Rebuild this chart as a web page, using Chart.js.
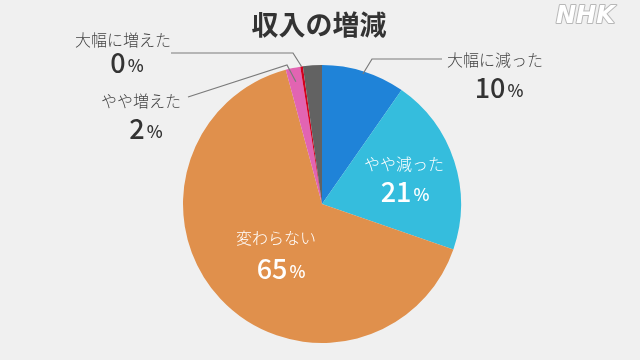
<!DOCTYPE html>
<html>
<head>
<meta charset="utf-8">
<script src="https://cdn.jsdelivr.net/npm/chart.js@4.4.0/dist/chart.umd.min.js"></script>
<style>
  html, body { margin: 0; padding: 0; background: #f0f0f0; }
  #wrap { width: 640px; height: 360px; position: relative; }
</style>
</head>
<body>
<div id="wrap"><canvas id="c" width="640" height="360"></canvas></div>
<script>
// ---- data ----
const title = "収入の増減";
const categories = ["大幅に減った", "やや減った", "変わらない", "やや増えた", "大幅に増えた", "無回答"];
const values = [9.7, 20.6, 65.5, 1.7, 0.3, 2.2];
const percentLabels = ["10", "21", "65", "2", "0", ""];
const colors = ["#1f83d8", "#35bddd", "#e0904c", "#e264b2", "#d4001e", "#626262"];

// ---- label layout (positions of text, not of marks) ----
const JP = '"Noto Sans CJK JP", "Noto Sans", sans-serif';
const labelLayout = [
  { inside: false, name: [447, 60, "left"], pct: [499, 88], anchorR: 0.98, elbow: [372, 59], end: [442, 59] },
  { inside: true,  name: [404, 164, "center"], pct: [405, 192] },
  { inside: true,  name: [276, 238, "center"], pct: [281, 269] },
  { inside: false, name: [141, 101, "center"], pct: [146, 129], anchorR: 0.9, elbow: [287, 65], end: [188, 97] },
  { inside: false, name: [123, 40, "center"], pct: [127, 63], anchorR: 1.0, elbow: [293, 53], end: [171, 53] },
  null
];

function drawPct(ctx, txt, cx, cy, color) {
  ctx.fillStyle = color;
  ctx.textBaseline = "middle";
  const numFont = '500 27px ' + JP;
  const pFont = '500 17px ' + JP;
  ctx.font = numFont; const w1 = ctx.measureText(txt).width;
  ctx.font = pFont; const w2 = ctx.measureText("%").width;
  const gap = 2;
  const x0 = cx - (w1 + gap + w2) / 2;
  ctx.textAlign = "left";
  ctx.font = numFont; ctx.fillText(txt, x0, cy);
  ctx.font = pFont; ctx.fillText("%", x0 + w1 + gap, cy + 3);
}

const labelPlugin = {
  id: "labels",
  afterDatasetsDraw(chart) {
    const ctx = chart.ctx;
    const meta = chart.getDatasetMeta(0);
    ctx.save();
    // title
    ctx.fillStyle = "#333";
    ctx.font = 'bold 27px ' + JP;
    ctx.textAlign = "center"; ctx.textBaseline = "middle";
    ctx.fillText(title, 319, 25);

    labelLayout.forEach((L, i) => {
      if (!L) return;
      const arc = meta.data[i];
      if (!L.inside) {
        const mid = (arc.startAngle + arc.endAngle) / 2;
        const r = arc.outerRadius * L.anchorR;
        const ax = arc.x + Math.cos(mid) * r;
        const ay = arc.y + Math.sin(mid) * r;
        ctx.strokeStyle = "#7a7a7a"; ctx.lineWidth = 1.2;
        ctx.beginPath();
        ctx.moveTo(ax, ay);
        ctx.lineTo(L.elbow[0], L.elbow[1]);
        ctx.lineTo(L.end[0], L.end[1]);
        ctx.stroke();
      }
      const color = L.inside ? "#ffffff" : "#333333";
      ctx.fillStyle = L.inside ? "#ffffff" : "#444444";
      ctx.font = '300 16px ' + JP;
      ctx.textAlign = L.name[2]; ctx.textBaseline = "middle";
      ctx.fillText(categories[i], L.name[0], L.name[1]);
      drawPct(ctx, percentLabels[i], L.pct[0], L.pct[1], color);
    });

    // NHK logo
    ctx.font = 'italic bold 24px "DejaVu Sans", sans-serif';
    ctx.textAlign = "left"; ctx.textBaseline = "middle";
    ctx.lineWidth = 2; ctx.strokeStyle = "#b8b8b8"; ctx.lineJoin = "round";
    ctx.strokeText("NHK", 556, 17);
    ctx.fillStyle = "#ffffff";
    ctx.fillText("NHK", 556, 17);
    ctx.restore();
  }
};

const bgPlugin = {
  id: "bg",
  beforeDraw(chart) {
    const ctx = chart.ctx;
    ctx.save(); ctx.fillStyle = "#f0f0f0";
    ctx.fillRect(0, 0, chart.width, chart.height); ctx.restore();
  }
};

new Chart(document.getElementById("c"), {
  type: "pie",
  data: {
    labels: categories,
    datasets: [{ data: values, backgroundColor: colors, borderWidth: 0 }]
  },
  options: {
    responsive: false,
    animation: false,
    layout: { padding: { top: 65, bottom: 17, left: 4, right: 0 } },
    plugins: { legend: { display: false }, tooltip: { enabled: false } }
  },
  plugins: [bgPlugin, labelPlugin]
});
</script>
</body>
</html>
